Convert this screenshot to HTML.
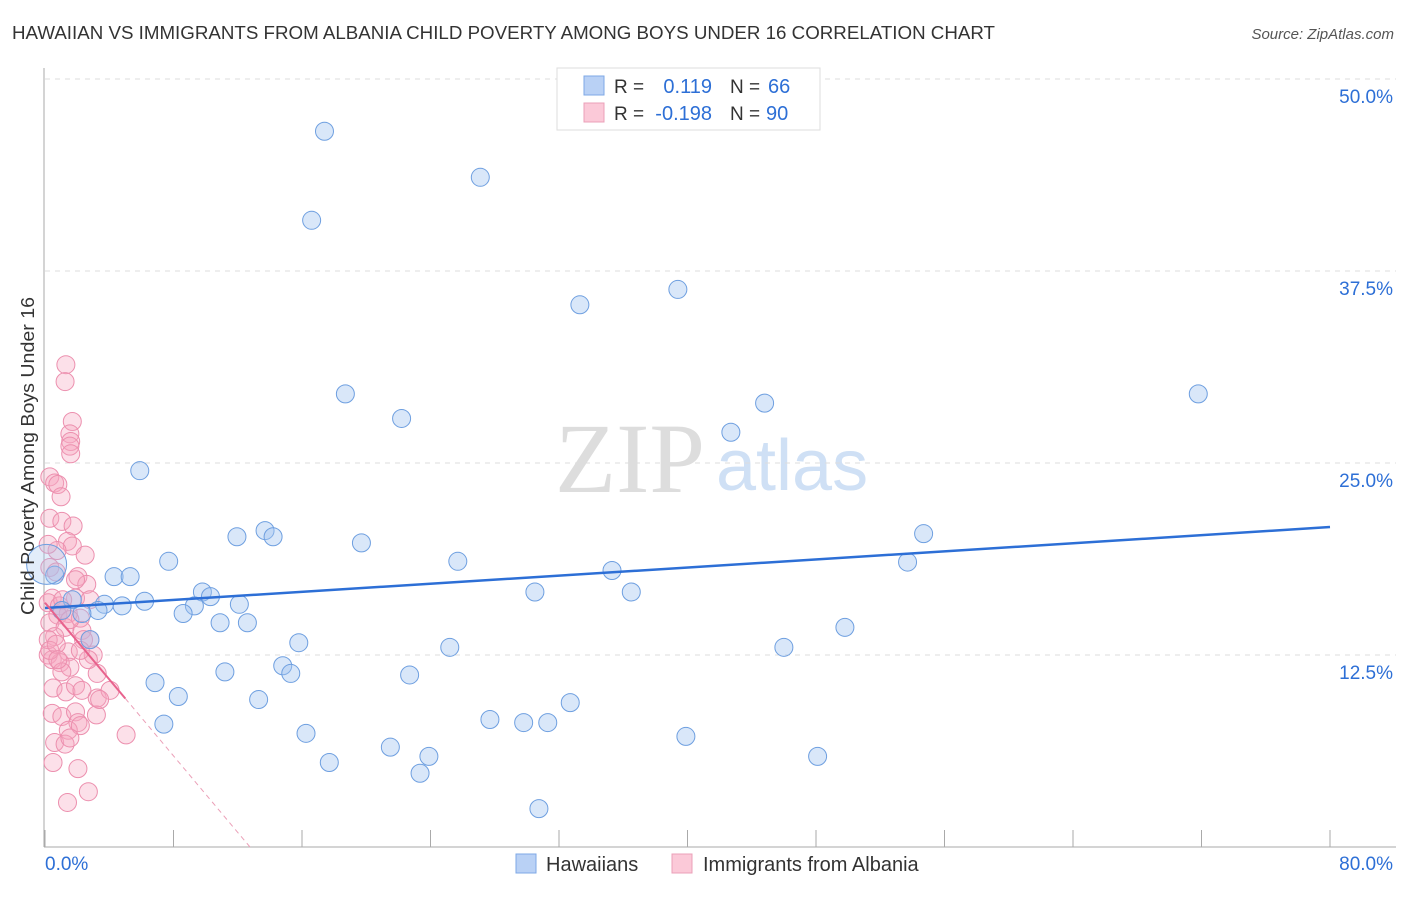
<!DOCTYPE html>
<html><head><meta charset="utf-8"><style>
body{margin:0;background:#fff;font-family:"Liberation Sans",sans-serif}
#wrap{position:relative;width:1406px;height:892px}
</style></head><body>
<div id="wrap">
<svg id="svg" width="1406" height="892" xmlns="http://www.w3.org/2000/svg">
<text x="12" y="39" font-size="18" fill="#333" textLength="983" lengthAdjust="spacingAndGlyphs">HAWAIIAN VS IMMIGRANTS FROM ALBANIA CHILD POVERTY AMONG BOYS UNDER 16 CORRELATION CHART</text>
<text x="1394" y="39" font-size="15" fill="#555" text-anchor="end" font-style="italic">Source: ZipAtlas.com</text>
<text x="555" y="492" font-size="100" fill="#ddd" font-family="Liberation Serif,serif">ZIP</text>
<text x="716" y="490" font-size="72" fill="#cfe0f5">atlas</text>
<g id="grid"></g>
<g id="pts"></g>
<g id="lines"></g>
<text transform="translate(34,456) rotate(-90)" font-size="18" fill="#333" text-anchor="middle" textLength="318" lengthAdjust="spacingAndGlyphs">Child Poverty Among Boys Under 16</text>
<g>
<rect x="557" y="68" width="263" height="62" fill="#fff" stroke="#ddd"/>
<rect x="584" y="76" width="20" height="19" fill="#b9d1f5" stroke="#7ea8e6"/>
<rect x="584" y="103" width="20" height="19" fill="#fbc9d8" stroke="#eba0b8"/>
<text x="614" y="93" font-size="19" fill="#333">R = </text><text x="712" y="93" font-size="20" fill="#2d6fd6" text-anchor="end">0.119</text>
<text x="730" y="93" font-size="19" fill="#333">N = </text><text x="768" y="93" font-size="20" fill="#2d6fd6">66</text>
<text x="614" y="120" font-size="19" fill="#333">R = </text><text x="712" y="120" font-size="20" fill="#2d6fd6" text-anchor="end">-0.198</text>
<text x="730" y="120" font-size="19" fill="#333">N = </text><text x="766" y="120" font-size="20" fill="#2d6fd6">90</text>
</g>
<g>
<rect x="516" y="854" width="20" height="19" fill="#b9d1f5" stroke="#7ea8e6"/>
<text x="546" y="871" font-size="20" fill="#333">Hawaiians</text>
<rect x="672" y="854" width="20" height="19" fill="#fbc9d8" stroke="#eba0b8"/>
<text x="703" y="871" font-size="20" fill="#333">Immigrants from Albania</text>
</g>
</svg>
</div>
<script>
const xTicks=[0,8,16,24,32,40,48,56,64,72,80];
const yTicks=[12.5,25,37.5,50];
const yTickLabels=["12.5%","25.0%","37.5%","50.0%"];
const xLabels=["0.0%","80.0%"];
const blueX=[17.4,27.1,16.6,33.3,39.4,18.7,22.2,44.8,42.7,71.8,5.9,11.95,13.7,14.2,19.7,25.7,7.7,4.3,5.3,35.3,53.7,54.7,30.5,36.5,9.8,10.3,6.2,4.8,3.7,3.3,2.3,1.7,1.05,9.3,8.6,12.1,10.9,12.6,2.8,15.8,25.2,46.0,49.8,14.8,15.3,11.2,22.7,6.85,8.3,13.3,32.7,27.7,29.8,31.3,7.4,16.25,39.9,21.5,23.9,23.35,17.7,48.1,30.75,0.6,0.1];
const blueY=[46.6,43.6,40.8,35.3,36.3,29.5,27.9,28.9,27.0,29.5,24.5,20.2,20.6,20.2,19.8,18.6,18.6,17.6,17.6,18.0,18.55,20.4,16.6,16.6,16.6,16.3,16.0,15.7,15.8,15.4,15.2,16.1,15.4,15.7,15.2,15.8,14.6,14.6,13.5,13.3,13.0,13.0,14.3,11.8,11.3,11.4,11.2,10.7,9.8,9.6,9.4,8.3,8.1,8.1,8.0,7.4,7.2,6.5,5.9,4.8,5.5,5.9,2.5,17.7,18.4];
const pinkX=[1.3,1.25,1.7,1.55,1.6,1.55,1.6,0.3,0.6,0.8,1.0,0.3,1.05,1.75,1.4,1.7,0.75,2.5,0.2,0.3,0.7,2.05,2.6,0.45,0.2,0.9,1.9,1.45,2.2,0.8,0.3,1.25,2.3,0.6,2.8,1.45,0.2,0.45,0.95,1.55,3.0,1.05,3.25,0.5,1.3,1.9,2.3,3.25,4.05,0.45,1.05,1.9,3.2,2.05,1.45,2.2,0.6,1.25,1.55,5.05,2.05,0.5,2.7,1.4,0.2,0.3,0.7,0.8,1.05,1.55,2.4,3.4,2.7,1.9,1.1,2.8,2.2];
const pinkY=[31.4,30.3,27.7,26.9,26.4,26.1,25.6,24.1,23.7,23.6,22.8,21.4,21.2,20.9,19.9,19.6,19.3,19.0,19.7,18.2,17.9,17.6,17.1,16.2,15.9,15.7,16.2,15.2,14.9,15.1,14.6,14.3,14.1,13.7,13.5,12.7,12.5,12.2,12.0,11.7,12.5,11.4,11.3,10.35,10.1,10.5,10.2,9.7,10.2,8.7,8.5,8.8,8.6,8.1,7.6,7.9,6.8,6.7,7.1,7.3,5.1,5.5,3.6,2.9,13.5,12.8,13.2,12.2,15.4,14.8,13.5,9.6,12.2,17.4,16.1,16.1,12.8];
const blueTrend=[15.56,20.83]; // y at x=0, x=80
const pinkTrend=[15.9,-1.246]; // intercept, slope
const pinkSolidEnd=5.0;
const NS="http://www.w3.org/2000/svg";
const X=v=>45+v/80*1285, Y=v=>847-v/50*768;
function mk(tag,attrs,parent){const e=document.createElementNS(NS,tag);for(const k in attrs)e.setAttribute(k,attrs[k]);parent.appendChild(e);return e;}
const grid=document.getElementById('grid'),pts=document.getElementById('pts'),lines=document.getElementById('lines');
let e=mk('line',{x1:44,y1:68,x2:44,y2:847,stroke:'#aaa'},grid);


e=mk('line',{x1:44,y1:847,x2:1396,y2:847,stroke:'#aaa'},grid);


yTicks.forEach((t,i)=>{
 e=mk('line',{x1:45,y1:Y(t),x2:1396,y2:Y(t),stroke:'#ddd','stroke-dasharray':'5,5'},grid);
 
 
 e=mk('text',{x:1393,y:Y(t)+24,'font-size':19,fill:'#2d6fd6','text-anchor':'end'},grid);e.textContent=yTickLabels[i];
 
 
});
xTicks.forEach(t=>{
 e=mk('line',{x1:X(t),y1:830,x2:X(t),y2:847,stroke:'#aaa'},grid);
 
 
});
e=mk('text',{x:45,y:870,'font-size':19,fill:'#2d6fd6'},grid);e.textContent=xLabels[0];


e=mk('text',{x:1393,y:870,'font-size':19,fill:'#2d6fd6','text-anchor':'end'},grid);e.textContent=xLabels[1];


pinkX.forEach((x,i)=>{
 const c=mk('circle',{cx:X(x),cy:Y(pinkY[i]),r:9,fill:'rgba(245,165,192,0.35)',stroke:'#ec8fae','stroke-width':1},pts);
 
 
});
blueX.forEach((x,i)=>{
 const big=(i==blueX.length-1);
 const c=mk('circle',{cx:X(x),cy:Y(blueY[i]),r:big?20:9,fill:big?'rgba(160,195,240,0.3)':'rgba(160,195,240,0.4)',stroke:'#6e9fe0','stroke-width':1},pts);
 
 
});
e=mk('line',{x1:X(0),y1:Y(blueTrend[0]),x2:X(80),y2:Y(blueTrend[1]),stroke:'#2d6fd6','stroke-width':2.5},lines);


e=mk('line',{x1:X(0),y1:Y(pinkTrend[0]),x2:X(pinkSolidEnd),y2:Y(pinkTrend[0]+pinkTrend[1]*pinkSolidEnd),stroke:'#e8628d','stroke-width':2},lines);


const x0=-pinkTrend[0]/pinkTrend[1];
e=mk('line',{x1:X(pinkSolidEnd),y1:Y(pinkTrend[0]+pinkTrend[1]*pinkSolidEnd),x2:X(x0),y2:Y(0),stroke:'#eba0b8','stroke-width':1,'stroke-dasharray':'5,4'},lines);


</script>
</body></html>
